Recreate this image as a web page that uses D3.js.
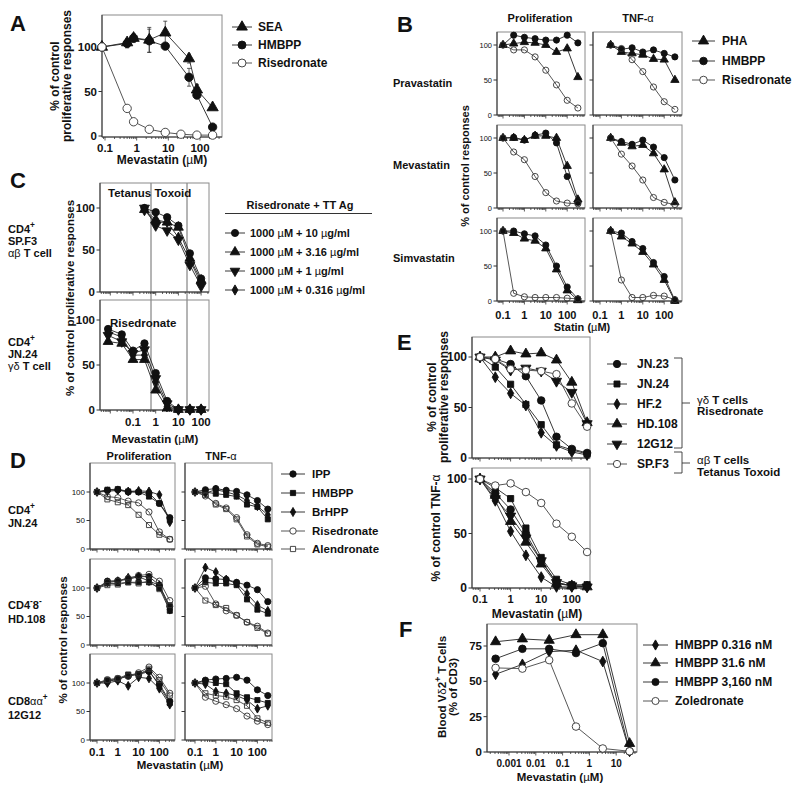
<!DOCTYPE html>
<html><head><meta charset="utf-8">
<script src="https://cdn.jsdelivr.net/npm/d3@7"></script>
<style>body{margin:0;background:#fff}text{font-family:"Liberation Sans",Arial,Helvetica,sans-serif}</style>
</head><body><svg id="c" width="800" height="787"></svg>
<script>
// ---------------- DATA ----------------
// Panel A
const aConcSEA = [0.08, 0.5, 0.8, 2.5, 8, 45, 80, 250];
const aConcRis = [0.08, 0.5, 0.8, 2.5, 8, 25, 80, 250];
const aSEA     = [100, 105, 110, 108, 116, 87, 52, 32];
const aSEAerr  = [0, 4, 5, 14, 13, 5, 6, 0];
const aHMBPP   = [100, 104, 110, 107, 101, 66, 46, 10];
const aHMBPPerr= [0, 5, 4, 13, 0, 10, 4, 2];
const aRis     = [100, 31, 16, 7.5, 4, 2, 1, 1];
// Panel B
const bConcP = [0.1, 0.316, 1, 3.16, 10, 31.6, 100, 316];
const bConcT = [0.316, 1, 3.16, 10, 31.6, 100, 316];
const bPravaPHA   = [100, 102, 104, 103, 100, 90, 95, 54];
const bPravaHMBPP = [100, 114, 111, 109, 107, 107, 114, 103];
const bPravaRis   = [100, 93, 93, 83, 64, 43, 21, 10];
const bPravaPHAt  = [100, 90, 88, 86, 80, 79, 50];
const bPravaHMBPPt= [100, 94, 96, 90, 93, 88, 83];
const bPravaRist  = [100, 95, 79, 62, 40, 19, 8];
const bMevaPHA    = [100, 100, 97, 103, 103, 100, 60, 12];
const bMevaHMBPP  = [100, 101, 97, 104, 107, 93, 45, 8];
const bMevaRis    = [100, 80, 69, 45, 22, 10, 7, 6];
const bMevaPHAt   = [100, 93, 88, 90, 78, 55, 8];
const bMevaHMBPPt = [100, 95, 91, 97, 87, 72, 40];
const bMevaRist   = [100, 77, 60, 40, 15, 8, 5];
const bSimvaPHA   = [100, 97, 89, 86, 75, 45, 15, 1];
const bSimvaHMBPP = [100, 100, 96, 93, 80, 50, 20, 3];
const bSimvaRis   = [100, 11, 6, 5, 5, 5, 4, 3];
const bSimvaPHAt  = [100, 92, 82, 70, 52, 30, 0];
const bSimvaHMBPPt= [100, 97, 85, 75, 55, 35, 1];
const bSimvaRist  = [100, 30, 5, 5, 8, 7, 2];
// Panel C
const cConcTop = [0.32, 1, 3.2, 10, 32, 100];
const cConcBot = [0.008, 0.032, 0.1, 0.32, 1, 3.2, 10, 32, 100];
const cTop10   = [100, 95, 89, 79, 46, 16];
const cTop316  = [98, 86, 83, 77, 40, 14];
const cTop1    = [100, 79, 73, 62, 32, 7];
const cTop0316 = [97, 83, 83, 65, 38, 10];
const cBot10   = [90, 84, 66, 74, 41, 10, 0.5, 0.5, 0.5];
const cBot316  = [76, 74, 56, 56, 22, 2, 0.5, 0.5, 0.5];
const cBot1    = [83, 76, 63, 67, 35, 7, 0.5, 0.5, 0.5];
const cBot0316 = [87, 81, 61, 61, 31, 4, 0.5, 0.5, 0.5];
const cLegend  = ["1000 µM + 10 µg/ml", "1000 µM + 3.16 µg/ml", "1000 µM + 1 µg/ml", "1000 µM + 0.316 µg/ml"];
// Panel D
const dConc = [0.1, 0.316, 1, 3.16, 10, 31.6, 100, 316];
const dJN24P_IPP   = [100,103,104,100,100,98,80,55];
const dJN24P_HMBPP = [100,104,105,101,100,92,80,52];
const dJN24P_BrHPP = [100,101,103,101,102,101,95,47];
const dJN24P_Ris   = [100,92,90,84,81,65,30,17];
const dJN24P_Alen  = [100,87,82,77,60,42,25,17];
const dJN24T_IPP   = [100,104,106,103,101,95,85,70];
const dJN24T_HMBPP = [100,100,97,95,92,78,74,52];
const dJN24T_BrHPP = [100,98,104,100,95,85,75,60];
const dJN24T_Ris   = [100,93,80,72,55,25,10,6];
const dJN24T_Alen  = [100,95,78,70,52,22,8,4];
const dHD108P_IPP   = [100,112,113,115,120,120,105,68];
const dHD108P_HMBPP = [100,108,108,110,110,110,100,60];
const dHD108P_BrHPP = [100,110,112,118,120,112,105,62];
const dHD108P_Ris   = [100,110,112,117,122,124,112,78];
const dHD108P_Alen  = [100,105,106,110,108,112,98,70];
const dHD108T_IPP   = [100,118,116,115,110,105,97,76];
const dHD108T_HMBPP = [100,110,108,108,105,80,62,55];
const dHD108T_BrHPP = [100,136,128,115,108,90,70,60];
const dHD108T_Ris   = [100,103,72,60,52,40,33,21];
const dHD108T_Alen  = [100,78,70,65,52,40,30,20];
const d12G12P_IPP   = [100,104,107,112,115,120,98,68];
const d12G12P_HMBPP = [100,103,106,114,116,122,95,65];
const d12G12P_BrHPP = [100,100,104,95,110,108,90,62];
const d12G12P_Ris   = [100,106,108,112,118,128,110,82];
const d12G12P_Alen  = [100,105,108,115,115,125,105,78];
const d12G12T_IPP   = [100,105,107,108,110,105,88,78];
const d12G12T_HMBPP = [100,103,100,98,82,75,70,65];
const d12G12T_BrHPP = [100,98,85,82,78,70,55,60];
const d12G12T_Ris   = [100,75,68,62,55,42,33,27];
const d12G12T_Alen  = [100,82,78,76,70,60,38,30];
// Panel E
const eConc = [0.1, 0.316, 1, 3.16, 10, 31.6, 100, 316];
const eP_JN23  = [100,98,93,81,57,21,9,5];
const eP_JN24  = [100,90,73,53,33,13,8,4];
const eP_HF2   = [100,80,64,52,25,12,6,3];
const eP_HD108 = [100,100,106,103,104,97,75,35];
const eP_12G12 = [100,97,87,89,86,76,65,34];
const eP_SPF3  = [100,98,88,87,86,83,54,31];
const eT_JN23  = [100,87,72,50,25,5,2,2];
const eT_JN24  = [100,92,82,55,28,8,3,3];
const eT_HF2   = [100,80,52,30,10,1,1,1];
const eT_HD108 = [100,85,61,42,22,4,2,1];
const eT_12G12 = [100,82,66,46,25,5,2,1];
const eT_SPF3  = [100,94,96,88,78,59,47,33];
// Panel F
const fConc   = [0.000316, 0.00316, 0.0316, 0.316, 3.16, 31.6];
const fH0316  = [55, 62, 71, 72, 64, 0.5];
const fH316   = [78, 80, 79, 83, 83, 6];
const fH3160  = [66, 73, 73, 70, 77, 0.5];
const fZol    = [59.5, 59, 65, 18, 2.5, 0.5];
const fYTicks = [0, 25, 50, 75];
const fXTicks = [0.001, 0.01, 0.1, 1, 10];
const logTicks = [0.1, 1, 10, 100];
const pctTicks = [0, 50, 100];

// ---------------- DRAWING ----------------
const svg = d3.select('#c');
const SH = {circle:d3.symbolCircle, square:d3.symbolSquare, triangle:d3.symbolTriangle, down:d3.symbolTriangle, diamond:d3.symbolDiamond};

function rich(g, x, y, str, o={}){
  const fs = o.size||11;
  const t = g.append('text').attr('x',x).attr('y',y).attr('font-size',fs)
    .attr('font-weight', o.w||'bold').attr('text-anchor',o.anchor||'start').attr('fill','#111');
  if(o.rot) t.attr('transform',`rotate(-90,${x},${y})`);
  const parts = str.split(/(\^.|[αβγδµ]+)/).filter(p=>p.length);
  let sup=false;
  parts.forEach(p=>{
    if(p[0]==='^'){ t.append('tspan').attr('dy',-fs*0.42).attr('font-size',fs*0.75).text(p[1]); sup=true; }
    else { const ts=t.append('tspan').text(p); if(sup){ts.attr('dy',fs*0.42); sup=false;}
           if(/[αβγδµ]/.test(p)) ts.attr('font-weight','normal'); }
  });
  return t;
}
function marker(g, s, cx, cy, size, openFill){
  const sz = s.shape==='diamond'? size*0.75 : s.shape==='square'? size*0.85 : size;
  g.append('path').attr('d', d3.symbol().type(SH[s.shape]).size(sz)())
    .attr('transform',`translate(${cx},${cy})`+(s.shape==='down'?' rotate(180)':''))
    .attr('fill', s.filled?'#111':openFill).attr('stroke', s.filled?'#111':'#333').attr('stroke-width',0.9);
}
function panel(o){
  const g = svg.append('g');
  const x = d3.scaleLog().domain(o.xv).range(o.xp);
  const y = d3.scaleLinear().domain(o.yv||[0,100]).range(o.yp);
  g.append('rect').attr('x',o.l).attr('y',o.t).attr('width',o.r-o.l).attr('height',o.b-o.t)
    .attr('fill','none').attr('stroke','#8a8a8a').attr('stroke-width',1);
  g.append('line').attr('x1',o.l).attr('x2',o.l).attr('y1',o.t).attr('y2',o.b).attr('stroke','#333');
  g.append('line').attr('x1',o.l).attr('x2',o.r).attr('y1',o.b).attr('y2',o.b).attr('stroke','#333');
  (o.yTicks||pctTicks).forEach(v=>{
    g.append('line').attr('x1',o.l-3.5).attr('x2',o.l).attr('y1',y(v)).attr('y2',y(v)).attr('stroke','#333');
    if(o.yLab) rich(g, o.l-5, y(v)+o.ySize*0.36, String(v), {size:o.ySize, anchor:'end', w:o.yW||'bold'});
  });
  const lo = x.invert(o.l), hi = x.invert(o.r);
  for(let e=Math.floor(Math.log10(lo)); e<=Math.ceil(Math.log10(hi)); e++){
    for(let k=1;k<=9;k++){
      const v=k*Math.pow(10,e); if(v<lo||v>hi) continue;
      g.append('line').attr('x1',x(v)).attr('x2',x(v)).attr('y1',o.b).attr('y2',o.b+(k===1?3.5:2))
        .attr('stroke','#333').attr('stroke-width',0.8);
    }
  }
  if(o.xLab) (o.xTicks||logTicks).forEach(v=> rich(g, x(v), o.xLabY, String(v), {size:o.xSize, anchor:'middle'}));
  o.series.forEach(s=>{
    const pts = s.x.map((c,i)=>[c, s.y[i], s.err?s.err[i]:0]);
    g.append('path').attr('d', d3.line().x(d=>x(d[0])).y(d=>y(d[1]))(pts))
      .attr('fill','none').attr('stroke', s.filled?'#222':'#444').attr('stroke-width',0.9);
    pts.forEach(d=>{ if(d[2]>0){
      const cx=x(d[0]);
      g.append('line').attr('x1',cx).attr('x2',cx).attr('y1',y(d[1]-d[2])).attr('y2',y(d[1]+d[2])).attr('stroke','#333').attr('stroke-width',0.8);
      [d[1]-d[2], d[1]+d[2]].forEach(v=>g.append('line').attr('x1',cx-2).attr('x2',cx+2).attr('y1',y(v)).attr('y2',y(v)).attr('stroke','#333').attr('stroke-width',0.8));
    }});
  });
  o.series.forEach(s=> s.x.forEach((c,i)=> marker(g, s, x(c), y(s.y[i]), o.mSize, o.openFill||'none')));
  return {g,x,y};
}
function legend(items, x1, x2, tx, ys, fs, ms, openFill){
  const g = svg.append('g');
  items.forEach((it,i)=>{
    g.append('line').attr('x1',x1).attr('x2',x2).attr('y1',ys[i]).attr('y2',ys[i]).attr('stroke', it.filled?'#222':'#444').attr('stroke-width',0.9);
    marker(g, it, (x1+x2)/2, ys[i], ms, openFill);
    rich(g, tx, ys[i]+fs*0.36, it.label, {size:fs});
  });
}
const T = svg.append('g');
const S = (x,y,shape,filled,err)=>({x,y,shape,filled,err});

// ---- Panel A ----
rich(T, 10, 31, 'A', {size:22});
panel({l:102,r:222,t:15,b:137, xv:[0.1,100], xp:[105,200], yp:[136,47], yLab:true, ySize:11.5,
  xLab:true, xLabY:152, xSize:11.5, mSize:55, openFill:'#fff',
  series:[S(aConcSEA,aSEA,'triangle',true,aSEAerr), S(aConcSEA,aHMBPP,'circle',true,aHMBPPerr), S(aConcRis,aRis,'circle',false)]});
rich(T, 59, 76, '% of control', {size:12, anchor:'middle', rot:true});
rich(T, 71, 76, 'proliferative responses', {size:12, anchor:'middle', rot:true});
rich(T, 162, 164, 'Mevastatin (µM)', {size:12, anchor:'middle'});
legend([{label:'SEA',shape:'triangle',filled:true},{label:'HMBPP',shape:'circle',filled:true},{label:'Risedronate',shape:'circle',filled:false}],
  232, 252, 258, [27,45,63], 12, 50, '#fff');

// ---- Panel B ----
rich(T, 397, 32, 'B', {size:22});
rich(T, 540, 22, 'Proliferation', {size:11, anchor:'middle'});
rich(T, 638, 22, 'TNF-α', {size:11, anchor:'middle'});
const bRows = [
  {name:'Pravastatin', P:[bPravaPHA,bPravaHMBPP,bPravaRis], Tn:[bPravaPHAt,bPravaHMBPPt,bPravaRist], ly:87},
  {name:'Mevastatin',  P:[bMevaPHA,bMevaHMBPP,bMevaRis],    Tn:[bMevaPHAt,bMevaHMBPPt,bMevaRist], ly:169},
  {name:'Simvastatin', P:[bSimvaPHA,bSimvaHMBPP,bSimvaRis], Tn:[bSimvaPHAt,bSimvaHMBPPt,bSimvaRist], ly:262}];
const bTops = [32,125,218];
bRows.forEach((row,i)=>{
  const t=bTops[i], b=t+83, last=i===2;
  panel({l:497,r:585,t,b, xv:[0.1,100], xp:[503,567.2], yp:[b,t+13], yLab:true, ySize:7.5, yW:'normal',
    xLab:last, xLabY:319, xSize:11, mSize:30,
    series:[S(bConcP,row.P[0],'triangle',true), S(bConcP,row.P[1],'circle',true), S(bConcP,row.P[2],'circle',false)]});
  panel({l:593,r:682,t,b, xv:[0.1,100], xp:[600,664.2], yp:[b,t+13], yLab:false,
    xLab:last, xLabY:319, xSize:11, mSize:30,
    series:[S(bConcT,row.Tn[0],'triangle',true), S(bConcT,row.Tn[1],'circle',true), S(bConcT,row.Tn[2],'circle',false)]});
  rich(T, 393, row.ly, row.name, {size:11});
});
rich(T, 469, 166, '% of control responses', {size:11, anchor:'middle', rot:true});
rich(T, 582, 331, 'Statin (µM)', {size:11, anchor:'middle'});
legend([{label:'PHA',shape:'triangle',filled:true},{label:'HMBPP',shape:'circle',filled:true},{label:'Risedronate',shape:'circle',filled:false}],
  692, 715, 722, [41,61,80], 12, 45, '#fff');

// ---- Panel C ----
rich(T, 10, 188, 'C', {size:22});
const cSh = ['circle','triangle','down','diamond'];
panel({l:100,r:209,t:183,b:292, xv:[0.1,100], xp:[133,201.1], yp:[292,208], yLab:true, ySize:11.5, mSize:42,
  series:[S(cConcTop,cTop10,'circle',true),S(cConcTop,cTop316,'triangle',true),S(cConcTop,cTop1,'down',true),S(cConcTop,cTop0316,'diamond',true)]});
panel({l:100,r:209,t:300,b:410, xv:[0.1,100], xp:[133,201.1], yp:[410,320], yLab:true, ySize:11.5, mSize:42,
  xLab:true, xLabY:426, xSize:11.5,
  series:[S(cConcBot,cBot10,'circle',true),S(cConcBot,cBot316,'triangle',true),S(cConcBot,cBot1,'down',true),S(cConcBot,cBot0316,'diamond',true)]});
[151,187].forEach(vx=> T.append('line').attr('x1',vx).attr('x2',vx).attr('y1',183).attr('y2',410).attr('stroke','#444').attr('stroke-width',0.8));
rich(T, 108, 197, 'Tetanus Toxoid', {size:11.5});
rich(T, 110, 327, 'Risedronate', {size:11.5});
rich(T, 8, 233, 'CD4^+', {size:11}); rich(T, 8, 245, 'SP.F3', {size:11}); rich(T, 8, 257, 'αβ T cell', {size:11});
rich(T, 8, 346, 'CD4^+', {size:11}); rich(T, 8, 358, 'JN.24', {size:11}); rich(T, 8, 370, 'γδ T cell', {size:11});
rich(T, 74, 298, '% of control proliferative responses', {size:11.5, anchor:'middle', rot:true});
rich(T, 155, 443, 'Mevastatin (µM)', {size:11.5, anchor:'middle'});
rich(T, 300, 209, 'Risedronate + TT Ag', {size:11, anchor:'middle'});
T.append('line').attr('x1',225).attr('x2',372).attr('y1',213.5).attr('y2',213.5).attr('stroke','#333');
legend(cLegend.map((l,i)=>({label:l, shape:cSh[i], filled:true})), 225, 245, 250, [233,252,271,290], 11, 40, '#fff');

// ---- Panel D ----
rich(T, 10, 468, 'D', {size:22});
rich(T, 139, 460, 'Proliferation', {size:11, anchor:'middle'});
rich(T, 221, 460, 'TNF-α', {size:11, anchor:'middle'});
const dRows = [
  {P:[dJN24P_IPP,dJN24P_HMBPP,dJN24P_BrHPP,dJN24P_Ris,dJN24P_Alen], Tn:[dJN24T_IPP,dJN24T_HMBPP,dJN24T_BrHPP,dJN24T_Ris,dJN24T_Alen]},
  {P:[dHD108P_IPP,dHD108P_HMBPP,dHD108P_BrHPP,dHD108P_Ris,dHD108P_Alen], Tn:[dHD108T_IPP,dHD108T_HMBPP,dHD108T_BrHPP,dHD108T_Ris,dHD108T_Alen]},
  {P:[d12G12P_IPP,d12G12P_HMBPP,d12G12P_BrHPP,d12G12P_Ris,d12G12P_Alen], Tn:[d12G12T_IPP,d12G12T_HMBPP,d12G12T_BrHPP,d12G12T_Ris,d12G12T_Alen]}];
const dSh = [['circle',true],['square',true],['diamond',true],['circle',false],['square',false]];
const dTops = [463,559,654];
dRows.forEach((row,i)=>{
  const t=dTops[i], b=t+86, last=i===2;
  panel({l:90,r:175,t,b, xv:[0.1,100], xp:[97,159.4], yp:[b,t+29], yLab:true, ySize:8, yW:'normal',
    xLab:last, xLabY:756, xSize:11.5, mSize:30,
    series:row.P.map((a,k)=>S(dConc,a,dSh[k][0],dSh[k][1]))});
  panel({l:185,r:272,t,b, xv:[0.1,100], xp:[195,257.4], yp:[b,t+29], yLab:false,
    xLab:last, xLabY:756, xSize:11.5, mSize:30,
    series:row.Tn.map((a,k)=>S(dConc,a,dSh[k][0],dSh[k][1]))});
});
rich(T, 8, 514, 'CD4^+', {size:11}); rich(T, 8, 527, 'JN.24', {size:11});
rich(T, 8, 609, 'CD4^-8^-', {size:11}); rich(T, 8, 623, 'HD.108', {size:11});
rich(T, 8, 705, 'CD8αα^+', {size:11}); rich(T, 8, 719, '12G12', {size:11});
rich(T, 67, 640, '% of control responses', {size:11.5, anchor:'middle', rot:true});
rich(T, 180, 769, 'Mevastatin (µM)', {size:11.5, anchor:'middle'});
legend([{label:'IPP',shape:'circle',filled:true},{label:'HMBPP',shape:'square',filled:true},{label:'BrHPP',shape:'diamond',filled:true},
  {label:'Risedronate',shape:'circle',filled:false},{label:'Alendronate',shape:'square',filled:false}],
  281, 305, 312, [474,493,512,531,549], 11.5, 32, '#fff');

// ---- Panel E ----
rich(T, 397, 350, 'E', {size:22});
const eSh = [['circle',true],['square',true],['diamond',true],['triangle',true],['down',true],['circle',false]];
panel({l:472,r:590,t:337,b:458, xv:[0.1,100], xp:[480,571.8], yp:[458,357], yLab:true, ySize:12, mSize:45, openFill:'#fff',
  series:[eP_JN23,eP_JN24,eP_HF2,eP_HD108,eP_12G12,eP_SPF3].map((a,k)=>S(eConc,a,eSh[k][0],eSh[k][1]))});
panel({l:472,r:590,t:468,b:588, xv:[0.1,100], xp:[480,571.8], yp:[588,479], yLab:true, ySize:12, mSize:45, openFill:'#fff',
  xLab:true, xLabY:603, xSize:11,
  series:[eT_JN23,eT_JN24,eT_HF2,eT_HD108,eT_12G12,eT_SPF3].map((a,k)=>S(eConc,a,eSh[k][0],eSh[k][1]))});
rich(T, 436, 397, '% of control', {size:12, anchor:'middle', rot:true});
rich(T, 448, 397, 'proliferative responses', {size:12, anchor:'middle', rot:true});
rich(T, 440, 528, '% of control TNF-α', {size:12, anchor:'middle', rot:true});
rich(T, 537, 618, 'Mevastatin (µM)', {size:12, anchor:'middle'});
legend(['JN.23','JN.24','HF.2','HD.108','12G12','SP.F3'].map((l,k)=>({label:l,shape:eSh[k][0],filled:eSh[k][1]})),
  607, 627, 637, [364,384,404,424,444,464], 12, 42, '#fff');
const br = T.append('g').attr('stroke','#333').attr('fill','none').attr('stroke-width',0.9);
br.append('path').attr('d','M674,358 H682 V448 H674 M682,403 H690');
br.append('path').attr('d','M674,452 H682 V473 H674 M682,463 H690');
rich(T, 697, 404, 'γδ T cells', {size:11.5}); rich(T, 697, 415, 'Risedronate', {size:11.5});
rich(T, 697, 464, 'αβ T cells', {size:11.5}); rich(T, 697, 476, 'Tetanus Toxoid', {size:11.5});

// ---- Panel F ----
rich(T, 399, 637, 'F', {size:22});
panel({l:487,r:637,t:624,b:752, xv:[0.001,10], xp:[509,616.2], yv:[0,75], yp:[752,646], yTicks:fYTicks, yLab:true, ySize:11.5,
  xLab:true, xTicks:fXTicks, xLabY:767, xSize:10, mSize:45, openFill:'#fff',
  series:[S(fConc,fH0316,'diamond',true),S(fConc,fH316,'triangle',true),S(fConc,fH3160,'circle',true),S(fConc,fZol,'circle',false)]});
rich(T, 446, 687, 'Blood Vδ2^+ T Cells', {size:11.5, anchor:'middle', rot:true});
rich(T, 457, 687, '(% of CD3)', {size:11.5, anchor:'middle', rot:true});
rich(T, 560, 781, 'Mevastatin (µM)', {size:11.5, anchor:'middle'});
legend([{label:'HMBPP 0.316 nM',shape:'diamond',filled:true},{label:'HMBPP 31.6 nM',shape:'triangle',filled:true},
  {label:'HMBPP 3,160 nM',shape:'circle',filled:true},{label:'Zoledronate',shape:'circle',filled:false}],
  643, 668, 675, [645,663,682,701], 12, 40, '#fff');
</script></body></html>
